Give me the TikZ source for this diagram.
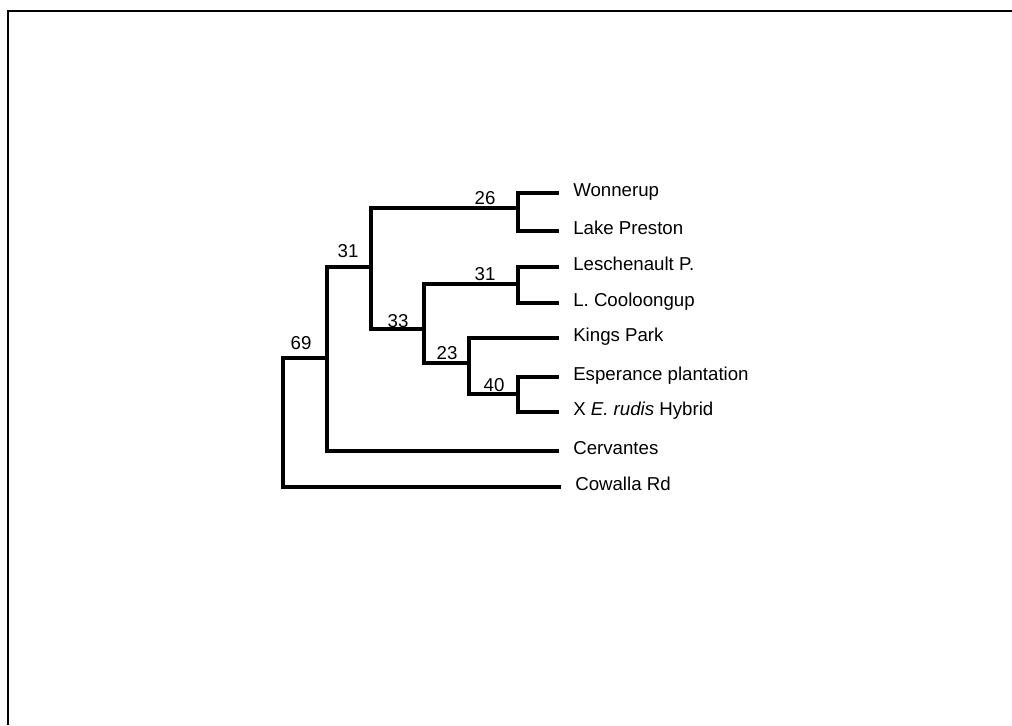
\documentclass[tikz,border=0pt]{standalone}
\usepackage{fontspec}
\setmainfont{Liberation Sans}
\usetikzlibrary{positioning}

\begin{document}
\begin{tikzpicture}[x=0.75pt, y=-0.75pt,
  font=\fontsize{14}{16}\selectfont,
  branch/.style={line width=2.7pt, line cap=rect},
  leaf/.style={anchor=west, inner ysep=0pt, inner xsep=12pt, text height=0.72em, text depth=0.2em},
  boot/.style={inner sep=0pt},
]
\useasboundingbox (0,0) rectangle (1012,725);

% frame
\draw[line width=1.6pt] (8,725) -- (8,11) -- (1012,11);

% =================== internal nodes ===================
\coordinate (r) at (283,358);
\coordinate (a) at (327,358);
\coordinate (b) at (371,267);
\coordinate (c) at (518,208);
\coordinate (d) at (424,329);
\coordinate (e) at (518,284);
\coordinate (f) at (469,363);
\coordinate (g) at (518,394);

% =================== leaves ===================
\node[leaf] (won) at (557,193) {Wonnerup};
\node[leaf] (lpr) at (557,231) {Lake Preston};
\node[leaf] (les) at (557,267) {Leschenault P.};
\node[leaf] (coo) at (557,303) {L. Cooloongup};
\node[leaf] (kin) at (557,338) {Kings Park};
\node[leaf] (esp) at (557,377) {Esperance plantation};
\node[leaf] (hyb) at (557,412) {X \textit{E. rudis} Hybrid};
\node[leaf] (cer) at (557,451) {Cervantes};
\node[leaf, xshift=3pt] (cow) at (555,487) {Cowalla Rd};

% =================== branches ===================
\draw[branch] (r) -- (a);
\draw[branch] (r) |- (cow.west);
\draw[branch] (a) |- (b);
\draw[branch] (a) |- (cer.west);
\draw[branch] (b) |- (c);
\draw[branch] (b) |- (d);
\draw[branch] (c) |- (won.west);
\draw[branch] (c) |- (lpr.west);
\draw[branch] (d) |- (e);
\draw[branch] (d) |- (f);
\draw[branch] (e) |- (les.west);
\draw[branch] (e) |- (coo.west);
\draw[branch] (f) |- (kin.west);
\draw[branch] (f) |- (g);
\draw[branch] (g) |- (esp.west);
\draw[branch] (g) |- (hyb.west);

% bootstrap values
\node[boot] (v69) at (301,343) {69};
\node[boot] (v31a) at (348,251) {31};
\node[boot] (v26) at (485,198) {26};
\node[boot] (v31b) at (485,274) {31};
\node[boot] (v33) at (398,321) {33};
\node[boot] (v23) at (447,353) {23};
\node[boot] (v40) at (494,385) {40};

\end{tikzpicture}
\end{document}
